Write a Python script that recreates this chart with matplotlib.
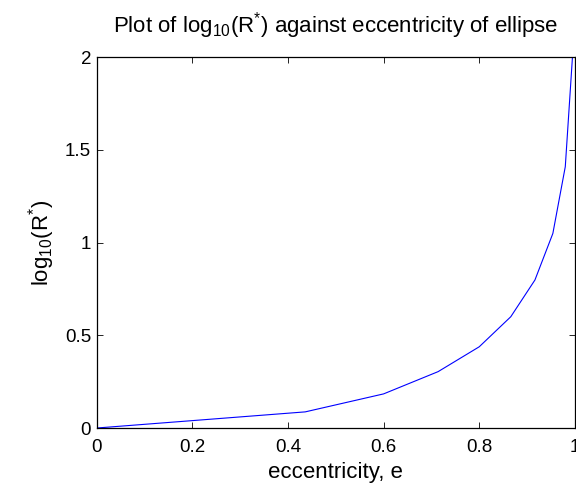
import numpy as np
import matplotlib
matplotlib.use("Agg")
import matplotlib.pyplot as plt

# eccentricity values and log10(R*)
ecc = [0.0, 0.436, 0.600, 0.714, 0.800, 0.866, 0.9165, 0.954, 0.980, 0.995]
log_r = [0.0, 0.087, 0.184, 0.304, 0.438, 0.600, 0.798, 1.049, 1.409, 2.0]

x_ticks = [0, 0.2, 0.4, 0.6, 0.8, 1]
x_labels = ["0", "0.2", "0.4", "0.6", "0.8", "1"]
y_ticks = [0, 0.5, 1, 1.5, 2]
y_labels = ["0", "0.5", "1", "1.5", "2"]

plt.rcParams['font.family'] = ['Liberation Sans', 'DejaVu Sans']
plt.rcParams['mathtext.fontset'] = 'custom'
plt.rcParams['mathtext.rm'] = 'Liberation Sans'
plt.rcParams['mathtext.it'] = 'Liberation Sans'

fig = plt.figure(figsize=(5.76, 4.9), dpi=100)
ax = fig.add_axes([0.168, 0.1265, 0.83, 0.757])

ax.plot(ecc, log_r, color='#0000ff', linewidth=0.8)

ax.set_xlim(0, 1)
ax.set_ylim(0, 2)
ax.set_xticks(x_ticks)
ax.set_xticklabels(x_labels)
ax.set_yticks(y_ticks)
ax.set_yticklabels(y_labels)
ax.tick_params(direction='in', length=4, width=0.6, labelsize=13.5,
               top=True, right=True)
ax.tick_params(axis='x', pad=8)
ax.tick_params(axis='y', pad=4)
for s in ax.spines.values():
    s.set_linewidth(0.9)

ax.set_xlabel("eccentricity, e", fontsize=16, labelpad=4)
ax.set_ylabel(r"log$_{10}$(R$^{*}$)", fontsize=16, labelpad=6)
ax.set_title(r"Plot of log$_{10}$(R$^{*}$) against eccentricity of ellipse",
             fontsize=16, pad=18)

fig.savefig("out.png")
